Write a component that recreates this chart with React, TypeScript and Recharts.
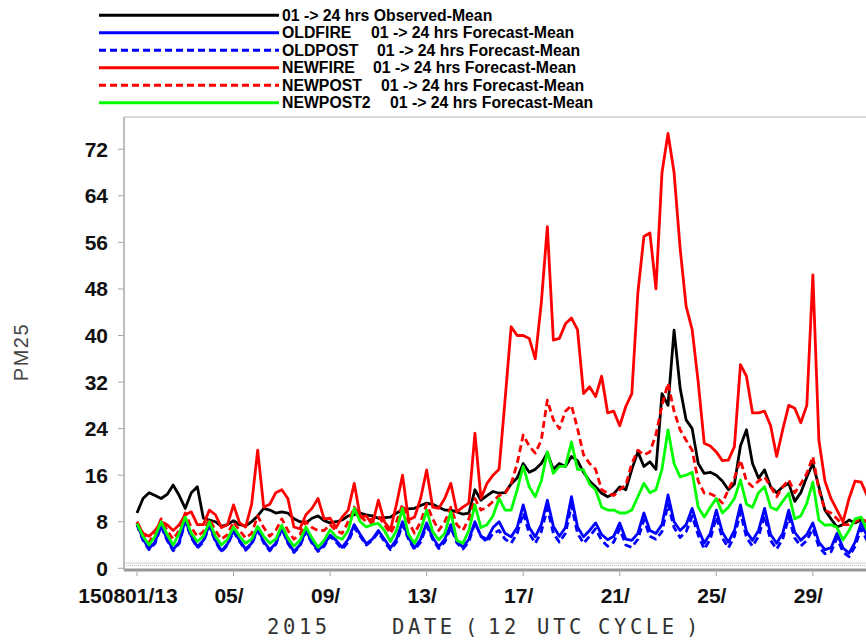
import React from "react";
import { LineChart, Line, XAxis, YAxis, ReferenceLine } from "recharts";

// x axis: days after 150801/13, one value every 6 hours
const STEP_DAYS = 0.25;
const TICK_DAYS = [0, 4, 8, 12, 16, 20, 24, 28];
const TICK_LABELS = ["150801/13", "05/", "09/", "13/", "17/", "21/", "25/", "29/"];
const Y_TICKS = [0, 8, 16, 24, 32, 40, 48, 56, 64, 72];

const observed = [
  9.5, 12, 13, 12.5, 12, 12.7, 14.3, 12.5, 10.3, 13, 14, 8.6, 8.3, 8, 7.2, 7.5,
  8.2, 7.5, 7.3, 8, 9, 10.3, 10, 9.5, 9.7, 9.5, 8.5, 8, 7.8, 8.6, 9, 8.2,
  7.8, 8, 8.3, 9, 9.2, 9.5, 9.2, 9, 8.6, 8.7, 8.8, 9.5, 10, 10.2, 10.3, 10.8,
  11.2, 11, 10.5, 10, 10, 9.7, 9.3, 9.5, 13.5, 11.7, 12.5, 13.2, 12.9, 13, 14.5, 15.5,
  18, 16.5, 17, 18, 19.8, 17, 18, 17.5, 19.2, 18.5, 16.5, 15, 14, 12.9, 12.3, 12.8,
  14, 13.5, 17, 20, 17.5, 18.3, 17, 30, 28, 40.9, 31, 25.5, 24, 18, 16.3, 16.5,
  16, 15, 13.5, 14.5, 21, 23.8, 18, 15.5, 16.9, 14, 13, 14, 14.6, 11.5, 13, 15.7,
  18, 14, 10, 8.5, 7.1, 7.5, 8.3, 7.8, 8.3, 8, 8,
];

const oldFire = [
  7.7, 5, 3.4, 4.5, 7.5, 5, 3.2, 4.5, 8.3, 5.5, 3.7, 4.8, 7.5, 4.8, 3, 4.2,
  6.5, 4.8, 3.3, 4.3, 6.8, 4.6, 3.2, 4.3, 7, 4.5, 2.9, 4, 6.5, 4.5, 3.1, 4,
  5.7, 4.8, 3.6, 5, 7.5, 5.8, 4.2, 5, 6.5, 5, 3.5, 5, 8, 5.3, 3.5, 5,
  7.8, 5.3, 3.7, 5, 7.5, 4.8, 3.6, 5, 8, 5.5, 5, 7, 8, 6, 5.4, 7,
  10.9, 7, 5.4, 7.5, 11.7, 7.2, 5.5, 7, 12.3, 7.1, 5.4, 6.5, 7.8, 5.8, 4.9, 5.5,
  7.8, 5, 4.8, 6, 9.5, 6.5, 6, 7.5, 12.6, 8, 6.5, 7.5, 10.3, 6.8, 4.3, 6,
  10, 6.2, 4.5, 6.5, 10.9, 6.3, 4.8, 6.5, 10.3, 5.8, 4.3, 6, 10, 6.2, 4.8, 5.8,
  7.8, 4.5, 3.2, 3.5, 6, 3.5, 2.6, 4.5, 7.8, 5.5, 4,
];

const oldPost = [
  7.5, 4.8, 3.2, 4.3, 7.2, 4.8, 3, 4.3, 8, 5.3, 3.5, 4.5, 7.2, 4.6, 2.8, 4,
  6.3, 4.6, 3.1, 4.1, 6.5, 4.4, 3, 4.1, 6.8, 4.3, 2.7, 3.8, 6.3, 4.3, 2.9, 3.8,
  5.5, 4.5, 3.3, 4.5, 7, 5.5, 4, 4.8, 6.2, 4.6, 3.2, 4.5, 7.5, 5, 3.2, 4.5,
  7.3, 5, 3.4, 4.5, 7, 4.4, 3.3, 4.6, 7.8, 5.5, 4.5, 6, 6.5, 5, 4.3, 6,
  9.5, 6, 4.3, 6.3, 10.3, 6, 4.5, 6, 10.8, 6, 4.3, 5.5, 6.8, 4.8, 3.8, 4.5,
  6.8, 4, 3.6, 5, 8.3, 5.5, 5, 6.3, 11, 7, 5.3, 6.3, 9, 5.7, 3.3, 5,
  8.8, 5.2, 3.5, 5.5, 9.6, 5.3, 3.8, 5.5, 9, 4.8, 3.3, 5, 8.8, 5.2, 3.8, 4.8,
  6.8, 3.7, 2.5, 2.8, 5.2, 2.8, 2, 3.8, 6.8, 4.7, 3.3,
];

const newFire = [
  7.8, 6, 5.5, 6.5, 8, 7.5, 6.5, 7.5, 9.2, 9.7, 7.5, 7.5, 10, 9.2, 7, 7.5,
  10.9, 7.8, 7.1, 11, 20.3, 10.5, 11, 13, 13.5, 12, 7.1, 6.8, 9.2, 10.3, 12, 8.5,
  8.6, 7, 8.8, 10, 14.6, 8.8, 9, 7.5, 11.7, 8, 6.6, 11, 16, 8.3, 8.8, 12,
  16.9, 10.5, 10.3, 12, 14.6, 9.7, 10.5, 11.2, 23.2, 12, 14.6, 16, 17, 29, 41.5, 40,
  40, 39.5, 36, 45.6, 58.7, 39.2, 39.5, 42, 43, 41, 30, 31.2, 29.5, 33, 26.7, 27,
  24.5, 27.8, 30, 47.3, 57, 57.6, 48, 68, 74.7, 68, 55, 45, 41, 32, 21.5, 21,
  20, 18.5, 18.6, 20.9, 35, 33, 26.7, 26.7, 27, 24.5, 19.2, 23.8, 28, 27.5, 25, 28,
  50.4, 22, 15, 12, 10, 8, 12, 15, 14.8, 12.5, 12,
];

const newPost = [
  8, 6, 4.5, 6, 8.5, 6.5, 5, 6.5, 9.5, 7, 5.5, 6.3, 8.5, 6.5, 5, 5.8,
  8, 6.5, 5.2, 6, 9, 7, 5.5, 6.5, 8.5, 6.5, 5, 5.8, 8, 7, 6.5, 6.5,
  7.5, 6.5, 6, 8, 10.5, 9, 8, 8.5, 9, 7.5, 6, 8, 11, 8, 6, 8,
  11, 8.5, 6.5, 8, 10.5, 7.5, 6.5, 8.5, 12, 10, 10.5, 11.5, 12.5, 12.9, 14.5, 18,
  22.9, 21, 19.8, 22, 28.9, 25.5, 24, 27, 28, 24, 19.5, 18, 17, 13.5, 12.9, 12.5,
  13.5, 14.3, 18, 20.3, 19.5, 20, 23, 28, 31.8, 27, 23.8, 22, 20.3, 15, 12.9, 12.8,
  12.3, 11.2, 13.5, 15.5, 18.6, 15, 14, 15, 15.7, 14, 12.3, 14, 15.2, 13, 14.5, 16.3,
  19.2, 13.5, 10, 9.5, 8.5, 7.5, 7.5, 8, 8.5, 8, 7.5,
];

const newPost2 = [
  7.7, 5.5, 4, 5.5, 8, 5.8, 4, 6, 8.8, 6, 4.6, 5.5, 8, 5.5, 4, 5,
  7.1, 5.5, 4.3, 5, 7.2, 5.5, 4.3, 5, 7.4, 5.2, 3.8, 4.8, 7.1, 5.2, 3.6, 4.8,
  6.6, 5.4, 5, 6.5, 10.3, 8, 7.1, 7.5, 7.7, 6.5, 4.6, 6.5, 10.3, 5.8, 4.3, 6.5,
  10, 6.3, 4.9, 6, 9.7, 4.8, 4.3, 6.5, 10.9, 7, 7.5, 9, 12, 10, 10, 13.5,
  17.5, 14, 12.3, 15, 20, 16.3, 17.5, 17.5, 21.7, 17, 16.9, 14.5, 13.5, 10.5, 10, 10,
  9.5, 9.5, 10, 12.3, 14.6, 13, 13.5, 17, 23.8, 18, 15.7, 16, 16.5, 10.5, 8.8, 10.5,
  12, 9.5, 10.5, 12, 15.2, 11, 10.5, 13, 14, 10.5, 10, 11.5, 12.9, 8.5, 9, 11.2,
  14.8, 8.3, 7.4, 7.5, 7, 4.9, 6.5, 8.5, 8.8, 6.5, 6,
];

const SERIES = [
  { key: "obs", name: "", desc: "01 -> 24 hrs Observed-Mean", descX: 282, color: "#000000", dash: undefined, values: observed },
  { key: "oldFire", name: "OLDFIRE", desc: "01 -> 24 hrs Forecast-Mean", descX: 371, color: "#0000ff", dash: undefined, values: oldFire },
  { key: "oldPost", name: "OLDPOST", desc: "01 -> 24 hrs Forecast-Mean", descX: 377, color: "#0000ff", dash: "7 4", values: oldPost },
  { key: "newFire", name: "NEWFIRE", desc: "01 -> 24 hrs Forecast-Mean", descX: 373, color: "#ff0000", dash: undefined, values: newFire },
  { key: "newPost", name: "NEWPOST", desc: "01 -> 24 hrs Forecast-Mean", descX: 381, color: "#ff0000", dash: "7 4", values: newPost },
  { key: "newPost2", name: "NEWPOST2", desc: "01 -> 24 hrs Forecast-Mean", descX: 390, color: "#00ff00", dash: undefined, values: newPost2 },
];

const data = observed.map((_, i) => {
  const row: Record<string, number> = { day: i * STEP_DAYS };
  SERIES.forEach((s) => (row[s.key] = s.values[i]));
  return row;
});

const FONT = "'Liberation Sans', Arial, Helvetica, sans-serif";
const AXIS = "#a8a8a8";

function YTick({ x, y, payload }: any) {
  return (
    <text x={x - 8} y={y} textAnchor="end" dominantBaseline="central"
      fontFamily={FONT} fontWeight="bold" fontSize={21} fill="#111">
      {payload.value}
    </text>
  );
}

function XTick({ x, y, payload, index }: any) {
  const i = TICK_DAYS.indexOf(payload.value);
  return (
    <text x={x - (i === 0 ? 9 : 4.5)} y={y + 25} textAnchor="middle"
      fontFamily={FONT} fontWeight="bold" fontSize={21} fill="#111">
      {TICK_LABELS[i >= 0 ? i : index]}
    </text>
  );
}

function Legend() {
  return (
    <svg width={866} height={115} style={{ position: "absolute", left: 0, top: 0 }}>
      {SERIES.map((s, i) => {
        const y = 15.3 + i * 17.5;
        return (
          <g key={s.key}>
            <line x1={99} x2={279} y1={y} y2={y} stroke={s.color} strokeWidth={3} strokeDasharray={s.dash} />
            {s.name && (
              <text x={282} y={y} dominantBaseline="central" fontFamily={FONT} fontWeight="bold" fontSize={15.8}>
                {s.name}
              </text>
            )}
            <text x={s.descX} y={y} dominantBaseline="central" fontFamily={FONT} fontWeight="bold" fontSize={15.8}>
              {s.desc}
            </text>
          </g>
        );
      })}
    </svg>
  );
}

export default function App() {
  return (
    <div style={{ position: "fixed", left: 0, top: 0, width: 866, height: 640, overflow: "hidden", background: "#fff" }}>
      <LineChart width={900} height={640} data={data} margin={{ top: 117, right: 0, bottom: 0, left: 0 }}>
        <XAxis
          type="number"
          dataKey="day"
          domain={[-0.538, 31.61]}
          ticks={TICK_DAYS}
          allowDataOverflow
          height={70}
          tickSize={6}
          tickMargin={2}
          axisLine={{ stroke: "#999", strokeWidth: 3 }}
          tickLine={{ stroke: AXIS }}
          tick={<XTick />}
        />
        <YAxis
          type="number"
          domain={[-0.29, 77.54]}
          ticks={Y_TICKS}
          allowDataOverflow
          width={124}
          tickSize={6}
          tickMargin={2}
          axisLine={{ stroke: AXIS, strokeWidth: 1.5 }}
          tickLine={{ stroke: AXIS }}
          tick={<YTick />}
        />
        <ReferenceLine y={77.54} stroke="#cccccc" strokeWidth={1.5} />
        <ReferenceLine y={0.9} stroke="#cccccc" strokeWidth={1} />
        <ReferenceLine y={0.48} stroke="#bbbbbb" strokeWidth={1} strokeDasharray="1 1" />
        {SERIES.map((s) => (
          <Line
            key={s.key}
            type="linear"
            dataKey={s.key}
            stroke={s.color}
            strokeWidth={2.8}
            strokeDasharray={s.dash}
            strokeLinejoin="round"
            dot={false}
            activeDot={false}
            isAnimationActive={false}
          />
        ))}
      </LineChart>
      <Legend />
      <svg width={866} height={640} style={{ position: "absolute", left: 0, top: 0, pointerEvents: "none" }}>
        <text x={21} y={352} transform="rotate(-90 21 352)" textAnchor="middle" dominantBaseline="central"
          fontFamily={FONT} fontSize={20} letterSpacing={1.5} fill="#444">
          PM25
        </text>
        <text y={634} fontFamily="'DejaVu Sans Mono', monospace" fontSize={20.5} letterSpacing={3.6} fill="#333">
          <tspan x={267}>2015</tspan>
          <tspan x={392}>DATE</tspan>
          <tspan x={465}>(</tspan>
          <tspan x={488}>12</tspan>
          <tspan x={537}>UTC</tspan>
          <tspan x={598}>CYCLE</tspan>
          <tspan x={686}>)</tspan>
        </text>
      </svg>
    </div>
  );
}
